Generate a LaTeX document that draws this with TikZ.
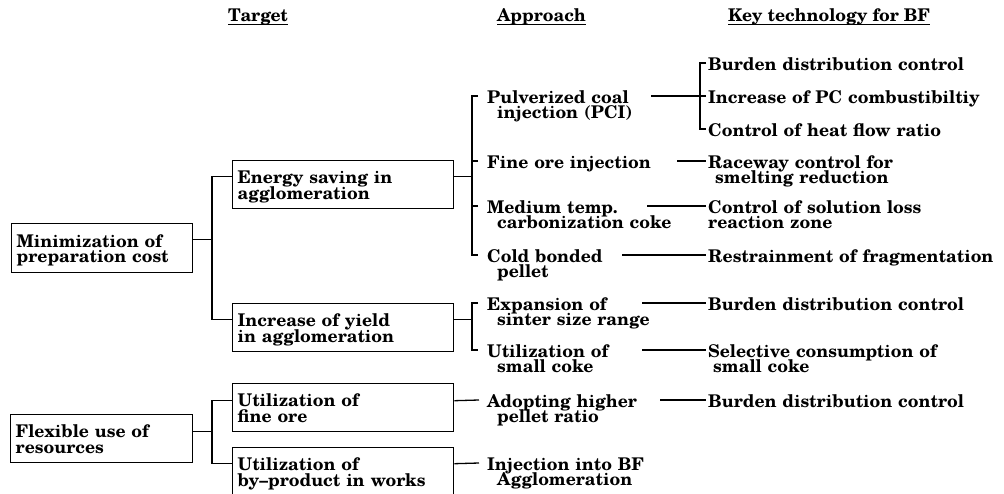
\documentclass[tikz,border=0pt]{standalone}
\usepackage{fontspec}
\newfontfamily\dfont{texgyreschola-bold}[Extension=.otf]
\begin{document}
\begin{tikzpicture}[x=1pt,y=-1pt,
  every node/.style={font={\dfont\fontsize{17.5pt}{15.5pt}\selectfont\lineskiplimit=-30pt}, inner sep=0pt},
  box/.style={draw, line width=1.4pt, rectangle, anchor=north west, inner xsep=5pt, inner ysep=0pt,
              minimum height=48pt, text width=#1, align=left, text height=12pt, text depth=14pt},
  txt/.style={anchor=base west, text width=#1, align=left},
  hdr/.style={anchor=base west},
  conn/.style={line width=1.3pt},
  uline/.style={line width=1.3pt}]
\fill[white] (0,0) rectangle (1004,493);
\useasboundingbox (0,0) rectangle (1004,493);

% headers
\node[hdr] (hT) at (228,21.5) {Target};
\node[hdr] (hA) at (497,21.5) {Approach};
\node[hdr] (hK) at (728,21.5) {Key technology for BF};
\draw[uline] ([yshift=-3pt]hT.base west) -- ([yshift=-3pt]hT.base east);
\draw[uline] ([yshift=-3pt]hA.base west) -- ([yshift=-3pt]hA.base east);
\draw[uline] ([yshift=-3pt]hK.base west) -- ([yshift=-3pt]hK.base east);

% boxes
\node[box=171pt, minimum height=49pt] (bMin) at (11,223) {Minimization of\\preparation cost};
\node[box=172pt] (bFlex) at (10,414) {Flexible use of\\resources};
\node[box=211pt] (bEnergy) at (232,160) {Energy saving in\\agglomeration};
\node[box=211pt] (bYield) at (232,303) {Increase of yield\\in agglomeration};
\node[box=211pt] (bFine) at (232,383) {Utilization of\\fine ore};
\node[box=211pt] (bBy) at (232,447) {Utilization of\\by–product in works};

% approaches
\node[txt=260pt] (aPCI) at (487,103) {Pulverized coal\\\hspace*{10pt}injection (PCI)};
\node[txt=260pt] (aFine) at (487,168) {Fine ore injection};
\node[txt=260pt] (aMed) at (487,213) {Medium temp.\\\hspace*{10pt}carbonization coke};
\node[txt=260pt] (aCold) at (487,262) {Cold bonded\\\hspace*{10pt}pellet};
\node[txt=260pt] (aExp) at (487,310) {Expansion of\\\hspace*{10pt}sinter size range};
\node[txt=260pt] (aUtil) at (487,357) {Utilization of\\\hspace*{10pt}small coke};
\node[txt=260pt] (aAdopt) at (487,407) {Adopting higher\\\hspace*{10pt}pellet ratio};
\node[txt=260pt] (aInj) at (487,470) {Injection into BF\\\hspace*{10pt}Agglomeration};

% key technologies
\node[txt=400pt] (kBur1) at (708,70) {Burden distribution control};
\node[txt=400pt] (kInc) at (708,103) {Increase of PC combustibiltiy};
\node[txt=400pt] (kHeat) at (708,136) {Control of heat flow ratio};
\node[txt=400pt] (kRace) at (708,168) {Raceway control for\\\hspace*{7pt}smelting reduction};
\node[txt=400pt] (kSol) at (708,213) {Control of solution loss\\reaction zone};
\node[txt=400pt] (kRes) at (708,262) {Restrainment of fragmentation};
\node[txt=400pt] (kBur2) at (708,310) {Burden distribution control};
\node[txt=400pt] (kSel) at (708,357) {Selective consumption of\\\hspace*{5pt}small coke};
\node[txt=400pt] (kBur3) at (708,407) {Burden distribution control};

% left tree
\draw[conn] ([yshift=8.5pt]bMin.east) -- ++(20,0);
\draw[conn] ([yshift=8pt]bEnergy.west) -- ++(-20,0) |- ([yshift=8pt]bYield.west);
\draw[conn] ([yshift=7pt]bFlex.east) -- ++(20,0);
\draw[conn] ([yshift=7pt]bFine.west) -- ++(-20,0) |- ([yshift=8pt]bBy.west);

% target -> approach
\draw[conn] ([yshift=8pt]bEnergy.east) -- ++(19,0);
\draw[conn] ([shift={(-9pt,7pt)}]aPCI.base west) -- ++(-6,0) |- ([shift={(-9pt,7pt)}]aCold.base west);
\draw[conn] ([shift={(-9pt,7pt)}]aFine.base west) -- ++(-6,0);
\draw[conn] ([shift={(-9pt,7pt)}]aMed.base west) -- ++(-6,0);
\draw[conn] ([yshift=8pt]bYield.east) -- ++(19,0);
\draw[conn] ([shift={(-9pt,7pt)}]aExp.base west) -- ++(-6,0) |- ([shift={(-9pt,7pt)}]aUtil.base west);
\draw[conn] ([yshift=7pt]bFine.east) -- ([shift={(-8pt,7pt)}]aAdopt.base west);
\draw[conn] ([yshift=8pt]bBy.east) -- ([shift={(-8pt,7pt)}]aInj.base west);

% approach -> key technology
\draw[conn] ([shift={(164pt,7pt)}]aPCI.base west) -- ([shift={(-2pt,7pt)}]kInc.base west);
\draw[conn] ([shift={(-2pt,7pt)}]kBur1.base west) -- ++(-6,0) |- ([shift={(-2pt,7pt)}]kHeat.base west);
\draw[conn] ([shift={(190pt,7pt)}]aFine.base west) -- ([shift={(-2pt,7pt)}]kRace.base west);
\draw[conn] ([shift={(160pt,7pt)}]aMed.base west) -- ([shift={(-2pt,7pt)}]kSol.base west);
\draw[conn] ([shift={(135pt,7pt)}]aCold.base west) -- ([shift={(-2pt,7pt)}]kRes.base west);
\draw[conn] ([shift={(155pt,7pt)}]aExp.base west) -- ([shift={(-2pt,7pt)}]kBur2.base west);
\draw[conn] ([shift={(155pt,7pt)}]aUtil.base west) -- ([shift={(-2pt,7pt)}]kSel.base west);
\draw[conn] ([shift={(173pt,7pt)}]aAdopt.base west) -- ([shift={(-2pt,7pt)}]kBur3.base west);
\end{tikzpicture}
\end{document}
